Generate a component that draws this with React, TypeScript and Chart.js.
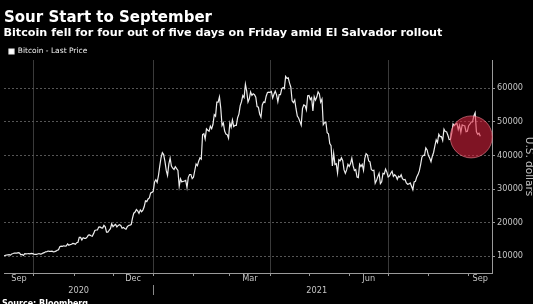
import React, { useEffect, useRef } from 'react';
import { Chart, registerables } from 'chart.js';

Chart.register(...registerables);

// ---------- text ----------
const TITLE = 'Sour Start to September';
const SUBTITLE = 'Bitcoin fell for four out of five days on Friday amid El Salvador rollout';
const SERIES_LABEL = 'Bitcoin - Last Price';
const Y_AXIS_TITLE = 'U.S. dollars';
const SOURCE = 'Source: Bloomberg';

// ---------- data (daily last price, USD) ----------
const FIRST_DATE = '2020-09-08';
const SEP_2020 = [10130, 10240, 10360, 10400, 10440, 10330, 10680, 10790, 10950, 10940, 10930, 11080, 10920, 10420, 10530, 10240, 10740, 10690, 10730, 10770, 10710, 10840, 10780];
const OCT_2020 = [10620, 10570, 10550, 10670, 10790, 10600, 10670, 10920, 11060, 11300, 11380, 11540, 11430, 11430, 11500, 11320, 11360, 11500, 11750, 11920, 12820, 12970, 12930, 13110, 13030, 13070, 13640, 13270, 13460, 13560, 13800];
const NOV_2020 = [13740, 13550, 14020, 14150, 15590, 15580, 14830, 15480, 15330, 15300, 15700, 16280, 16320, 16070, 15960, 16720, 17650, 17800, 17820, 18680, 18720, 18420, 18360, 19160, 18720, 17150, 17140, 17720, 18180, 19630];
const DEC_2020 = [18800, 19200, 19450, 18700, 19150, 19360, 19170, 18320, 18550, 18260, 18040, 18800, 19140, 19250, 19430, 21310, 22800, 23140, 23870, 23480, 22740, 23780, 23240, 23730, 24710, 26440, 26250, 27040, 27360, 28840, 29000];
const JAN_2021 = [29370, 32130, 32780, 31970, 33990, 36820, 39370, 40800, 40250, 38240, 35540, 34010, 37390, 39150, 36820, 36180, 35790, 36630, 36070, 35550, 30830, 33000, 32100, 32290, 32370, 32570, 30430, 33470, 34320, 34320, 33110];
const FEB_2021 = [33540, 35510, 37470, 36930, 38290, 39260, 38900, 46200, 46480, 44920, 47910, 47500, 47220, 48720, 47940, 49200, 52150, 51680, 55890, 55890, 57410, 54090, 48890, 49680, 47260, 46340, 46190, 45140];
const MAR_2021 = [49630, 48380, 50540, 48560, 48930, 48910, 51210, 52300, 54820, 56010, 57810, 57230, 61200, 59120, 55850, 56830, 58870, 57860, 58350, 58100, 57350, 54530, 54340, 52340, 51420, 55030, 55880, 55780, 57630, 58730, 58810];
const APR_2021 = [58790, 59040, 57090, 58220, 59120, 58040, 56000, 58090, 58090, 59800, 60200, 59890, 63500, 62970, 63100, 61530, 60300, 56250, 55700, 56470, 53900, 51700, 51140, 50050, 49000, 54020, 55030, 54820, 53560, 57750];
const MAY_2021 = [57830, 56630, 57200, 53240, 57470, 56430, 57380, 58930, 58280, 55860, 56750, 49150, 49720, 49880, 46760, 46450, 43540, 42910, 36860, 40630, 37300, 37530, 34770, 38710, 38400, 39300, 38440, 35690, 34650, 35680, 37340];
const JUN_2021 = [36690, 37580, 39190, 36880, 35520, 35800, 33550, 33400, 37390, 36680, 37330, 35550, 39100, 40520, 40140, 38350, 38090, 35820, 35480, 35600, 31680, 32510, 33680, 34660, 31590, 32160, 34650, 34490, 35910, 35040];
const JUL_2021 = [33570, 33900, 34690, 35290, 33750, 34240, 33860, 32880, 33820, 33520, 34260, 33090, 32730, 32820, 31780, 31420, 31520, 31780, 30840, 29790, 32110, 32290, 33580, 34290, 35380, 37270, 39460, 40000, 40010, 42240, 41630];
const AUG_2021 = [39970, 39200, 38150, 39750, 40870, 42820, 44630, 43820, 46290, 45600, 45590, 44430, 47790, 47100, 47050, 45990, 44700, 44800, 46720, 49340, 48870, 49290, 49530, 47700, 48970, 46840, 49070, 48900, 48830, 47050, 47170];
const SEP_2021 = [48850, 49290, 49940, 49940, 51780, 52700, 47000, 46300, 46600, 45700];

const DAILY_PRICES = [
  SEP_2020, OCT_2020, NOV_2020, DEC_2020, JAN_2021, FEB_2021, MAR_2021,
  APR_2021, MAY_2021, JUN_2021, JUL_2021, AUG_2021, SEP_2021,
];

// ---------- axes ----------
const AXIS_START = '2020-09-08';
const AXIS_END = '2021-09-19';
const Y_MIN = 5000;
const Y_MAX = 68400;
const Y_TICKS = [10000, 20000, 30000, 40000, 50000, 60000];
const MONTH_NAMES = ['Jan', 'Feb', 'Mar', 'Apr', 'May', 'Jun', 'Jul', 'Aug', 'Sep', 'Oct', 'Nov', 'Dec'];
const LABELLED_MONTHS = [8, 11, 2, 5]; // Sep, Dec, Mar, Jun
const GRID_MONTHS = [0, 3, 6, 9]; // quarter starts
const YEARS = [2020, 2021];

// highlight circle
const HIGHLIGHT_DATE = '2021-09-03';
const HIGHLIGHT_PRICE = 45500;
const HIGHLIGHT_RADIUS = 21;

// ---------- helpers ----------
const DAY_MS = 86400000;
const ORIGIN = Date.UTC(2020, 9, 1);
const dayOf = (iso: string) => (Date.parse(iso + 'T00:00:00Z') - ORIGIN) / DAY_MS;
const dayOfYMD = (y: number, m: number, d: number) => (Date.UTC(y, m, d) - ORIGIN) / DAY_MS;

const X_MIN = dayOf(AXIS_START);
const X_MAX = dayOf(AXIS_END);

const POINTS = (() => {
  const start = dayOf(FIRST_DATE);
  const flat = DAILY_PRICES.flat();
  return flat.map((v, i) => ({ x: start + i, y: v }));
})();
const DATA_START = POINTS[0].x;
const DATA_END = POINTS[POINTS.length - 1].x;

// month boundaries inside the axis
const MONTHS: { y: number; m: number; start: number; end: number }[] = [];
{
  let y = 2020, m = 8;
  while (dayOfYMD(y, m, 1) < X_MAX) {
    const start = dayOfYMD(y, m, 1);
    const end = dayOfYMD(y, m + 1, 1);
    MONTHS.push({ y, m, start, end });
    m += 1;
    if (m > 11) { m = 0; y += 1; }
  }
}
const MONTH_STARTS = MONTHS.map((mo) => mo.start).filter((d) => d > X_MIN && d < X_MAX);
const GRID_SET = new Set(MONTHS.filter((mo) => GRID_MONTHS.includes(mo.m)).map((mo) => mo.start));
const MONTH_LABEL_TICKS = MONTHS.filter((mo) => LABELLED_MONTHS.includes(mo.m)).map((mo) => ({
  value: (Math.max(mo.start, X_MIN) + Math.min(mo.end, X_MAX)) / 2,
  label: MONTH_NAMES[mo.m],
}));
const YEAR_SEPARATORS = YEARS.slice(1).map((yr) => dayOfYMD(yr, 0, 1));
const YEAR_TICKS = [
  ...YEARS.map((yr) => ({
    value: (Math.max(dayOfYMD(yr, 0, 1), DATA_START) + Math.min(dayOfYMD(yr + 1, 0, 1), DATA_END)) / 2,
    label: String(yr),
  })),
  ...YEAR_SEPARATORS.map((d) => ({ value: d, label: '' })),
].sort((a, b) => a.value - b.value);

const FONT = '"DejaVu Sans", sans-serif';
const AXIS_TEXT = '#c4c4c4';
const AXIS_LINE = '#9a9a9a';

const highlightPlugin = {
  id: 'highlightCircle',
  afterDatasetsDraw(chart: any) {
    const { ctx, scales } = chart;
    const cx = scales.x.getPixelForValue(dayOf(HIGHLIGHT_DATE));
    const cy = scales.y.getPixelForValue(HIGHLIGHT_PRICE);
    ctx.save();
    ctx.beginPath();
    ctx.arc(cx, cy, HIGHLIGHT_RADIUS, 0, Math.PI * 2);
    ctx.fillStyle = 'rgba(226, 36, 64, 0.56)';
    ctx.fill();
    ctx.lineWidth = 1;
    ctx.strokeStyle = 'rgba(240, 130, 145, 0.6)';
    ctx.stroke();
    ctx.restore();
  },
};

export default function App() {
  const canvasRef = useRef<HTMLCanvasElement>(null);

  useEffect(() => {
    if (!canvasRef.current) return;
    const chart = new Chart(canvasRef.current, {
      type: 'line',
      data: {
        datasets: [
          {
            label: SERIES_LABEL,
            data: POINTS,
            borderColor: '#ededed',
            backgroundColor: '#ffffff',
            borderWidth: 1.2,
            pointRadius: 0,
            tension: 0,
            fill: false,
          },
        ],
      },
      options: {
        responsive: false,
        maintainAspectRatio: false,
        devicePixelRatio: 1,
        animation: false,
        layout: { padding: { top: 42.75, left: 4, right: 0, bottom: 0 } },
        plugins: {
          tooltip: { enabled: false },
          legend: {
            display: true,
            position: 'top',
            align: 'start',
            maxHeight: 17.25,
            labels: {
              color: '#f2f2f2',
              boxWidth: 5,
              boxHeight: 5,
              padding: 5,
              font: { family: FONT, size: 7.5 },
            },
          },
        },
        scales: {
          x: {
            type: 'linear',
            position: 'bottom',
            weight: 1,
            min: X_MIN,
            max: X_MAX,
            bounds: 'data',
            afterBuildTicks: (s: any) => { s.ticks = MONTH_STARTS.map((v) => ({ value: v })); },
            afterFit: (s: any) => { s.height = 1; },
            ticks: { display: false },
            grid: {
              drawOnChartArea: true,
              color: (c: any) => (c.tick && GRID_SET.has(c.tick.value) ? '#3a3a3a' : 'rgba(0,0,0,0)'),
              tickColor: AXIS_LINE,
              tickLength: 3,
              lineWidth: 1,
            },
            border: { display: true, color: AXIS_LINE, width: 1 },
          },
          xMonth: {
            type: 'linear',
            position: 'bottom',
            weight: 2,
            min: X_MIN,
            max: X_MAX,
            bounds: 'data',
            afterBuildTicks: (s: any) => { s.ticks = MONTH_LABEL_TICKS.map((t) => ({ value: t.value })); },
            afterFit: (s: any) => { s.height = 11; },
            ticks: {
              autoSkip: false,
              maxRotation: 0,
              minRotation: 0,
              padding: 0,
              color: AXIS_TEXT,
              font: { family: FONT, size: 8.2 },
              callback: (_v: any, i: number) => MONTH_LABEL_TICKS[i] ? MONTH_LABEL_TICKS[i].label : '',
            },
            grid: { display: false, drawTicks: false, tickLength: 0 },
            border: { display: false },
          },
          xYear: {
            type: 'linear',
            position: 'bottom',
            weight: 3,
            min: X_MIN,
            max: X_MAX,
            bounds: 'data',
            afterBuildTicks: (s: any) => { s.ticks = YEAR_TICKS.map((t) => ({ value: t.value })); },
            afterFit: (s: any) => { s.height = 19; },
            ticks: {
              autoSkip: false,
              maxRotation: 0,
              minRotation: 0,
              padding: -9.5,
              color: AXIS_TEXT,
              font: { family: FONT, size: 8.2 },
              callback: (_v: any, i: number) => YEAR_TICKS[i] ? YEAR_TICKS[i].label : '',
            },
            grid: {
              display: true,
              drawOnChartArea: false,
              tickLength: 10,
              tickColor: (c: any) => (c.tick && YEAR_SEPARATORS.includes(c.tick.value) ? '#8a8a8a' : 'rgba(0,0,0,0)'),
            },
            border: { display: false },
          },
          y: {
            type: 'linear',
            position: 'right',
            min: Y_MIN,
            max: Y_MAX,
            bounds: 'data',
            afterBuildTicks: (s: any) => { s.ticks = Y_TICKS.map((v) => ({ value: v })); },
            afterFit: (s: any) => { s.width = 41; },
            ticks: {
              padding: 2,
              color: AXIS_TEXT,
              font: { family: FONT, size: 8.2 },
              callback: (v: any) => String(v),
            },
            grid: {
              drawOnChartArea: true,
              color: '#555555',
              tickColor: AXIS_LINE,
              tickLength: 3,
              lineWidth: 1,
            },
            border: { display: true, color: AXIS_LINE, width: 1, dash: [2, 2] },
            title: {
              display: true,
              text: Y_AXIS_TITLE,
              color: AXIS_TEXT,
              font: { family: FONT, size: 10.5, lineHeight: 1 },
              padding: { top: -1, bottom: 0 },
            },
          },
        },
      },
      plugins: [highlightPlugin],
    } as any);
    return () => chart.destroy();
  }, []);

  return (
    <div
      style={{
        position: 'fixed', left: 0, top: 0, width: 533, height: 304,
        background: '#000', overflow: 'hidden', fontFamily: FONT,
      }}
    >
      <canvas
        ref={canvasRef}
        width={533}
        height={304}
        style={{ position: 'absolute', left: 0, top: 0, width: 533, height: 304 }}
      />
      <div style={{ position: 'absolute', left: 4, top: 10.3, fontSize: 15, lineHeight: '15px', fontWeight: 'bold', color: '#ffffff', whiteSpace: 'nowrap' }}>
        {TITLE}
      </div>
      <div style={{ position: 'absolute', left: 3.5, top: 27, fontSize: 11.2, lineHeight: '11px', fontWeight: 'bold', color: '#ffffff', whiteSpace: 'nowrap' }}>
        {SUBTITLE}
      </div>
      <div style={{ position: 'absolute', left: 2, top: 299.5, fontSize: 8, lineHeight: '8px', fontWeight: 'bold', color: '#ffffff', whiteSpace: 'nowrap' }}>
        {SOURCE}
      </div>
    </div>
  );
}
